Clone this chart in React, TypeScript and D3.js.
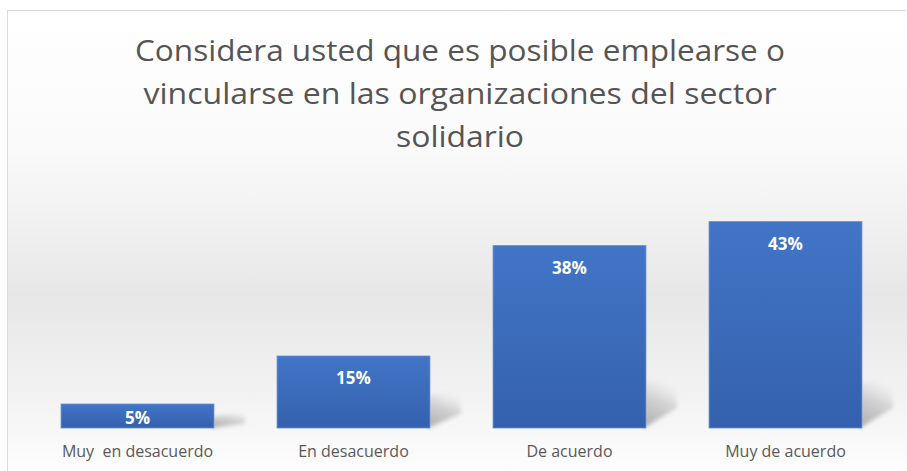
import React from "react"
import * as d3 from "d3"

const categories = ["Muy  en desacuerdo", "En desacuerdo", "De acuerdo", "Muy de acuerdo"]
const values = [5, 15, 38, 43]
const titleLines = [
  "Considera usted que es posible emplearse o",
  "vincularse en las organizaciones del sector",
  "solidario",
]

const W = 907
const H = 471
const baseY = 428

export default function App() {
  const x = d3
    .scaleBand<string>()
    .domain(categories)
    .range([29.5, 893.5])
    .paddingInner(0.292)
    .paddingOuter(0.146)

  const y = d3.scaleLinear().domain([0, 50]).range([baseY, baseY - 240])

  const titleWidths = [650, 633, 128]

  return (
    <svg
      width={W}
      height={H}
      style={{ position: "absolute", left: 0, top: 0, fontFamily: "'Open Sans', sans-serif" }}
    >
      <defs>
        <linearGradient id="bg" x1="0" y1="0" x2="0" y2="1">
          <stop offset="0" stopColor="#ffffff" />
          <stop offset="0.3" stopColor="#fafafa" />
          <stop offset="0.62" stopColor="#e7e7e7" />
          <stop offset="0.85" stopColor="#f3f3f3" />
          <stop offset="1" stopColor="#fdfdfd" />
        </linearGradient>
        <linearGradient id="barFill" x1="0" y1="0" x2="0" y2="1">
          <stop offset="0" stopColor="#4275c7" />
          <stop offset="1" stopColor="#3461ad" />
        </linearGradient>
        <linearGradient id="shadowFill" x1="0" y1="1" x2="0.3" y2="0">
          <stop offset="0" stopColor="#a8a8a8" stopOpacity="1" />
          <stop offset="0.6" stopColor="#c4c4c4" stopOpacity="0.7" />
          <stop offset="1" stopColor="#dcdcdc" stopOpacity="0" />
        </linearGradient>
        <filter id="blur" x="-20%" y="-20%" width="140%" height="140%">
          <feGaussianBlur stdDeviation="2" />
        </filter>
      </defs>

      <rect x={7} y={10} width={W - 7} height={H - 10} fill="url(#bg)" />
      <line x1={7} y1={10.5} x2={W - 1} y2={10.5} stroke="#d9d9d9" />
      <line x1={7.5} y1={10} x2={7.5} y2={H} stroke="#d9d9d9" />

      <g fill="#555555" fontSize={30} textAnchor="middle">
        {titleLines.map((t, i) => (
          <text
            key={t}
            x={460}
            y={61 + i * 43}
            textLength={titleWidths[i]}
            lengthAdjust="spacingAndGlyphs"
          >
            {t}
          </text>
        ))}
      </g>

      <g>
        {categories.map((c, i) => {
          const x1 = (x(c) ?? 0) + x.bandwidth()
          const h = baseY - y(values[i])
          const sh = Math.min(h * 0.45, 45)
          const pts = [
            [x1 - 2, baseY - sh],
            [x1 + 31, baseY - sh - 8],
            [x1 + 31, baseY - sh * 0.45],
            [x1 - 2, baseY],
          ]
          return (
            <polygon
              key={c}
              points={pts.map((p) => p.join(",")).join(" ")}
              fill="url(#shadowFill)"
              filter="url(#blur)"
            />
          )
        })}
      </g>

      <g>
        {categories.map((c, i) => (
          <rect
            key={c}
            x={x(c)}
            y={y(values[i])}
            width={x.bandwidth()}
            height={baseY - y(values[i])}
            fill="url(#barFill)"
            stroke="#6a90d2"
            strokeWidth={0.8}
          />
        ))}
      </g>

      <g fill="#ffffff" fontSize={17} fontWeight="bold" textAnchor="middle">
        {categories.map((c, i) => (
          <text key={c} x={(x(c) ?? 0) + x.bandwidth() / 2} y={Math.min(y(values[i]) + 28, baseY - 4)}>
            {values[i] + "%"}
          </text>
        ))}
      </g>

      <g fill="#595959" fontSize={16} textAnchor="middle">
        {categories.map((c) => (
          <text key={c} x={(x(c) ?? 0) + x.bandwidth() / 2} y={457} style={{ whiteSpace: "pre" }}>
            {c}
          </text>
        ))}
      </g>
    </svg>
  )
}
